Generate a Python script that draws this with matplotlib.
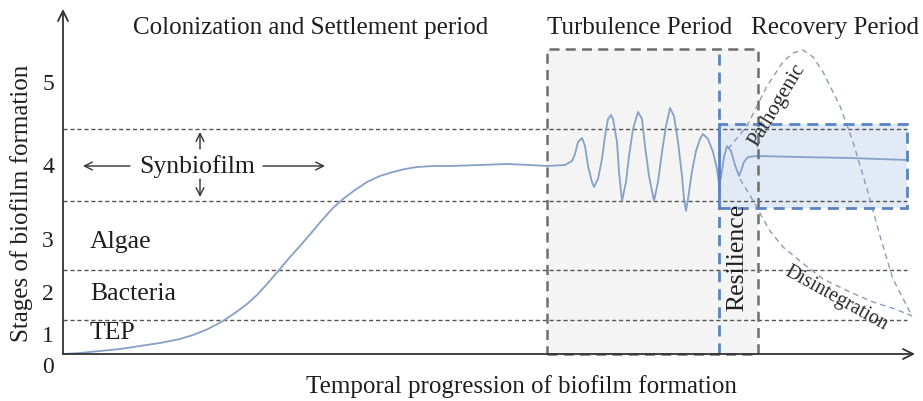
import matplotlib
matplotlib.use("Agg")
import matplotlib.pyplot as plt
from matplotlib.patches import Rectangle

plt.rcParams['font.family'] = ['Liberation Serif', 'DejaVu Serif']

# ---- data (time units along x, stage-height units along y) ----
curve_x = [0, 17, 37, 57, 77, 97, 117, 130, 145, 160, 172, 184, 194, 204, 217, 227, 237, 249,
           260, 270, 280, 292, 304, 317, 330, 342, 354, 370, 387, 417, 444, 467, 484, 502,
           509, 512, 515, 519, 522, 525, 529, 531, 535, 539, 542, 545, 548, 550, 554, 556, 559,
           563, 566, 570, 575, 579, 582, 586, 591, 595, 599, 603, 607, 611, 615, 619, 621, 623,
           625, 629, 633, 637, 640, 645, 650, 654, 656, 658, 661, 664, 668, 672, 676, 678, 681,
           685, 694, 737, 787, 844]
curve_y = [0, 1, 3, 5, 8, 11, 15, 19, 25, 33, 41, 50, 59, 70, 85, 97, 108, 122,
           135, 146, 155, 164, 172, 178, 182, 185, 187, 188, 188, 189, 190, 189, 188, 189,
           193, 200, 212, 216, 208, 188, 172, 167, 175, 195, 218, 235, 239, 235, 212, 182, 153,
           172, 198, 225, 242, 235, 208, 178, 153, 172, 202, 228, 246, 238, 212, 178, 155, 143,
           155, 183, 203, 215, 220, 215, 202, 185, 170, 177, 197, 208, 203, 189, 178, 183, 192,
           197, 198, 197, 196, 194]

pathogenic_x = [665, 684, 704, 720, 730, 740, 750, 760, 777, 790, 804, 817, 830, 849]
pathogenic_y = [205, 228, 268, 292, 301, 304, 297, 282, 248, 212, 165, 118, 75, 38]

disintegration_x = [677, 685, 692, 699, 707, 720, 737, 760, 787, 810, 832, 849]
disintegration_y = [175, 162, 150, 137, 123, 107, 93, 75, 62, 52, 45, 38]

band_edges = [34, 84, 153, 225]
band_names = ["TEP", "Bacteria", "Algae"]
band_label_y = [22, 61, 113]
stage_ticks = ["0", "1", "2", "3", "4", "5"]
stage_tick_y = [-13, 18, 60, 113, 187, 270]

turbulence_span = (484, 695)
recovery_span = (656, 844)
recovery_band = (146, 230)
period_top = 305
periods = ["Colonization and Settlement period", "Turbulence Period", "Recovery Period"]
period_x = [248, 577, 772]

# ---- figure ----
fig = plt.figure(figsize=(9.23, 4.02), dpi=100)
ax = fig.add_axes([0, 0, 1, 1])
ax.set_xlim(-63, 860)
ax.set_ylim(-47, 355)
ax.axis('off')

blue = '#5b83c2'
grey = '#6e6e6e'
curve_c = '#86a0c8'
txt = '#1e1e1e'

# turbulence box
ax.add_patch(Rectangle((turbulence_span[0], 0), turbulence_span[1] - turbulence_span[0], period_top,
                       facecolor='#f4f4f4', edgecolor='none', zorder=1))
# recovery box fill
ax.add_patch(Rectangle((recovery_span[0], recovery_band[0]), recovery_span[1] - recovery_span[0],
                       recovery_band[1] - recovery_band[0], facecolor='#e2eaf5', edgecolor='none', zorder=1.5))

# horizontal dashed stage lines
for yb in band_edges:
    ax.plot([0, 844], [yb, yb], color='#555555', lw=1.0, ls=(0, (3, 2)), zorder=2)

# curves
ax.plot(curve_x, curve_y, color=curve_c, lw=1.3, zorder=4, solid_joinstyle='round')
ax.plot(pathogenic_x, pathogenic_y, color='#8a9cb8', lw=1.0, ls=(0, (4, 3)), zorder=3)
ax.plot(disintegration_x, disintegration_y, color='#8a9cb8', lw=1.0, ls=(0, (4, 3)), zorder=3)

# turbulence box edge
ax.add_patch(Rectangle((turbulence_span[0], 0), turbulence_span[1] - turbulence_span[0], period_top,
                       facecolor='none', edgecolor=grey, lw=1.8, ls=(0, (4, 2.5)), zorder=5))
# resilience line
ax.plot([recovery_span[0], recovery_span[0]], [0, period_top], color=blue, lw=2.0,
        ls=(0, (4, 2.5)), zorder=6)
# recovery box edge
ax.add_patch(Rectangle((recovery_span[0], recovery_band[0]), recovery_span[1] - recovery_span[0],
                       recovery_band[1] - recovery_band[0], facecolor='none', edgecolor=blue,
                       lw=2.0, ls=(0, (4, 2.5)), zorder=6))

# axes with arrows
ax.annotate('', xy=(0, 345), xytext=(0, 0),
            arrowprops=dict(arrowstyle='->', color='#333333', lw=1.3, mutation_scale=18,
                            shrinkA=0, shrinkB=0), zorder=7)
ax.annotate('', xy=(852, 0), xytext=(0, 0),
            arrowprops=dict(arrowstyle='->', color='#333333', lw=1.3, mutation_scale=18,
                            shrinkA=0, shrinkB=0), zorder=7)

for lab, yy in zip(stage_ticks, stage_tick_y):
    ax.text(-15, yy, lab, fontsize=17, ha='center', va='center', color=txt)
for lab, yy in zip(band_names, band_label_y):
    ax.text(27, yy, lab, fontsize=18.5, ha='left', va='center', color=txt)

ax.text(-41, 152, "Stages of biofilm formation", fontsize=18, rotation=90,
        ha='center', va='center', color=txt)
ax.text(458, -32, "Temporal progression of biofilm formation", fontsize=18,
        ha='center', va='center', color=txt)
for lab, xx in zip(periods, period_x):
    ax.text(xx, 327, lab, fontsize=18, ha='center', va='center', color=txt)

# synbiofilm with arrows
ax.text(134, 188, "Synbiofilm", fontsize=18.5, ha='center', va='center', color=txt)
arr = dict(arrowstyle='->', color='#333333', lw=1.0, mutation_scale=14, shrinkA=0, shrinkB=0)
ax.annotate('', xy=(20, 188), xytext=(67, 188), arrowprops=arr)
ax.annotate('', xy=(262, 188), xytext=(200, 188), arrowprops=arr)
ax.annotate('', xy=(137, 222), xytext=(137, 205), arrowprops=arr)
ax.annotate('', xy=(137, 157), xytext=(137, 175), arrowprops=arr)

ax.text(674, 98, "Resilience", fontsize=18.5, rotation=90, ha='center', va='center', color=txt, zorder=8)
ax.text(714, 250, "Pathogenic", fontsize=15, rotation=59, ha='center', va='center', color='#2a2a2a', zorder=8)
ax.text(773, 56, "Disintegration", fontsize=14.5, rotation=-29, ha='center', va='center', color='#2a2a2a', zorder=8)

fig.savefig('out.png', dpi=100)
